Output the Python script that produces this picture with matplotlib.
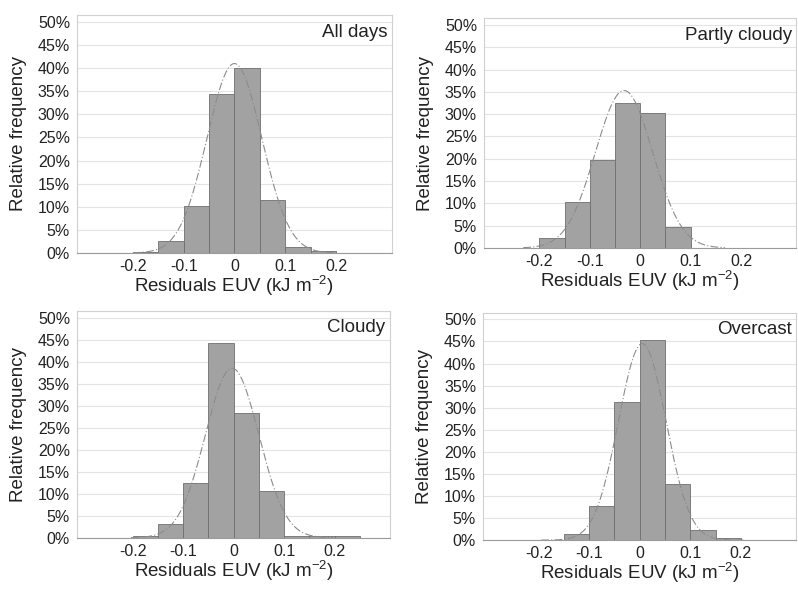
import numpy as np
import matplotlib
matplotlib.use("Agg")
import matplotlib.pyplot as plt

plt.rcParams['font.family'] = ['Liberation Sans', 'DejaVu Sans']
plt.rcParams['mathtext.fontset'] = 'custom'
plt.rcParams['mathtext.rm'] = 'Liberation Sans'
plt.rcParams['mathtext.default'] = 'regular'
plt.rcParams['axes.unicode_minus'] = False

# bin edges of the histograms (kJ m-2)
bin_left = [-0.20, -0.15, -0.10, -0.05, 0.00, 0.05, 0.10, 0.15, 0.20]
bin_width = 0.05

# relative frequency (%) per bin
all_days = [0.2, 2.5, 10.1, 34.4, 40.1, 11.4, 1.4, 0.35, 0.0]
partly_cloudy = [2.3, 10.4, 19.8, 32.6, 30.2, 4.7, 0.0, 0.0, 0.0]
cloudy = [0.5, 3.1, 12.4, 44.2, 28.3, 10.6, 0.3, 0.4, 0.4]
overcast = [0.1, 1.4, 7.7, 31.2, 45.4, 12.7, 2.2, 0.4, 0.0]

# fitted normal curves: mean, sigma, peak (%)
fit_mean = [0.0, -0.032, -0.003, 0.005]
fit_sigma = [0.054, 0.057, 0.053, 0.047]
fit_peak = [41.0, 35.3, 38.5, 44.5]

titles = ["All days", "Partly cloudy", "Cloudy", "Overcast"]
series = [all_days, partly_cloudy, cloudy, overcast]

yticks = list(range(0, 51, 5))
ytick_labels = [f"{v}%" for v in yticks]
xticks = [-0.2, -0.1, 0, 0.1, 0.2]
xtick_labels = ["-0.2", "-0.1", "0", "0.1", "0.2"]

# axes boxes [left, bottom, width, height] in figure fractions
boxes = [
    [0.0965, 0.5705, 0.3945, 0.404],
    [0.6065, 0.579, 0.3915, 0.390],
    [0.0965, 0.087, 0.3925, 0.385],
    [0.6053, 0.083, 0.3927, 0.386],
]

fig = plt.figure(figsize=(7.98, 5.89), dpi=100)

for i in range(4):
    ax = fig.add_axes(boxes[i])
    ax.set_axisbelow(True)
    ax.grid(axis='y', color='#e4e4e4', linewidth=0.8)
    ax.bar(bin_left, series[i], width=bin_width, align='edge',
           color='#a2a2a2', edgecolor='#6e6e6e', linewidth=0.6)

    x = np.linspace(fit_mean[i] - 0.2, fit_mean[i] + 0.2, 300)
    y = fit_peak[i] * np.exp(-(x - fit_mean[i]) ** 2 / (2 * fit_sigma[i] ** 2))
    ax.plot(x, y, color='#8c8c8c', linewidth=0.8, dashes=(7, 2, 1, 2))

    ax.set_xlim(-0.31, 0.31)
    ax.set_ylim(0, 51.5)
    ax.set_yticks(yticks)
    ax.set_yticklabels(ytick_labels, fontsize=11.5, color='#222222')
    ax.set_xticks(xticks)
    ax.set_xticklabels(xtick_labels, fontsize=11.5, color='#222222')
    ax.tick_params(length=0, pad=5)
    ax.tick_params(axis='x', pad=4.5)

    for side in ['top', 'right', 'left']:
        ax.spines[side].set_color('#d0d0d0')
        ax.spines[side].set_linewidth(0.8)
    ax.spines['bottom'].set_color('#9a9a9a')

    ax.set_ylabel("Relative frequency", fontsize=13.5, color='#222222', labelpad=8)
    ax.set_xlabel(r"Residuals EUV (kJ m$^{-2}$)", fontsize=13.5,
                  color='#222222', labelpad=0)
    ax.text(0.985, 0.925, titles[i], transform=ax.transAxes, ha='right',
            va='center', fontsize=13.5, color='#222222')

fig.savefig("out.png", dpi=100)
